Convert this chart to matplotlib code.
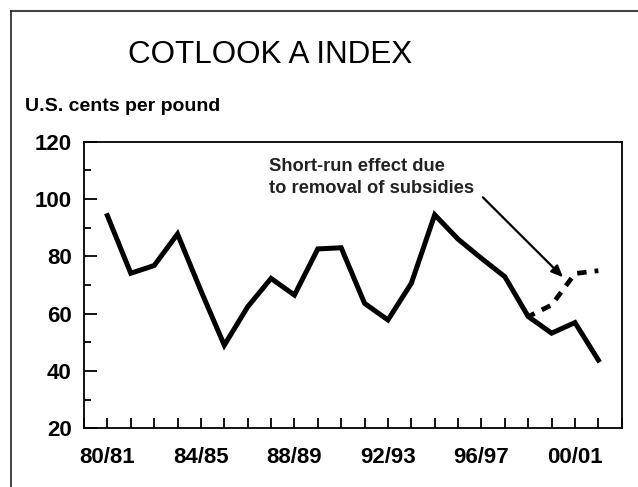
import matplotlib
matplotlib.use("Agg")
import matplotlib.pyplot as plt
from matplotlib.lines import Line2D
from matplotlib.ticker import MultipleLocator, FixedLocator

plt.rcParams['font.family'] = ['Liberation Sans', 'DejaVu Sans']

seasons = ["80/81", "81/82", "82/83", "83/84", "84/85", "85/86", "86/87", "87/88",
           "88/89", "89/90", "90/91", "91/92", "92/93", "93/94", "94/95", "95/96",
           "96/97", "97/98", "98/99", "99/00", "00/01", "01/02"]
index_values = [94.2, 74.1, 76.8, 87.8, 68.0, 49.0, 62.4, 72.3, 66.5, 82.6, 83.0,
                63.6, 57.8, 70.6, 94.5, 86.0, 79.3, 72.9, 59.0, 53.2, 56.9, 43.8]
no_subsidy_seasons = ["98/99", "99/00", "00/01", "01/02"]
no_subsidy_values = [59.0, 63.0, 74.0, 75.0]
labeled_seasons = ["80/81", "84/85", "88/89", "92/93", "96/97", "00/01"]

fig = plt.figure(figsize=(6.38, 4.87), dpi=100)
ax = fig.add_axes([0.1317, 0.1205, 0.8428, 0.5885])

x = list(range(len(seasons)))
ax.plot(x, index_values, color='black', lw=3.6, solid_joinstyle='miter')
xd = [seasons.index(s) for s in no_subsidy_seasons]
ax.plot(xd, no_subsidy_values, color='black', lw=3.4, linestyle=(0.5, (2.0, 1.7)))

ax.set_xlim(-1, 22)
ax.set_ylim(20, 120)
ax.xaxis.set_major_locator(FixedLocator([seasons.index(s) for s in labeled_seasons]))
ax.set_xticklabels(labeled_seasons)
ax.xaxis.set_minor_locator(MultipleLocator(1))
ax.yaxis.set_major_locator(MultipleLocator(20))
ax.yaxis.set_minor_locator(MultipleLocator(10))

ax.tick_params(axis='x', which='both', direction='in', length=7, width=1.3,
               pad=13.5, labelsize=16)
ax.tick_params(axis='y', which='major', direction='in', length=9, width=1.3,
               pad=9, labelsize=16)
ax.tick_params(axis='y', which='minor', direction='in', length=5, width=1.3)
for lab in ax.get_xticklabels() + ax.get_yticklabels():
    lab.set_fontweight('bold')
for sp in ax.spines.values():
    sp.set_linewidth(1.3)

ax.text(6.93, 107.5, "Short-run effect due\nto removal of subsidies",
        fontsize=13.2, fontweight='bold', ha='left', va='center',
        linespacing=1.35, color='#222222')
ax.annotate("", xy=(19.49, 72.7), xytext=(16.06, 100.6),
            arrowprops=dict(arrowstyle='-|>,head_length=0.7,head_width=0.3',
                            color='black', lw=1.6, shrinkA=0, shrinkB=0))

fig.text(0.424, 0.887, "COTLOOK A INDEX", fontsize=22.6, ha='center', va='center')
fig.text(0.039, 0.782, "U.S. cents per pound", fontsize=14, fontweight='bold',
         ha='left', va='center')

fig.add_artist(Line2D([10.7 / 638, 1.0], [1 - 10.7 / 487] * 2,
                      transform=fig.transFigure, color='#444444', lw=1.5))
fig.add_artist(Line2D([10.7 / 638] * 2, [0.0, 1 - 10.7 / 487],
                      transform=fig.transFigure, color='#222222', lw=1.2))

fig.savefig("out.png", dpi=100)
